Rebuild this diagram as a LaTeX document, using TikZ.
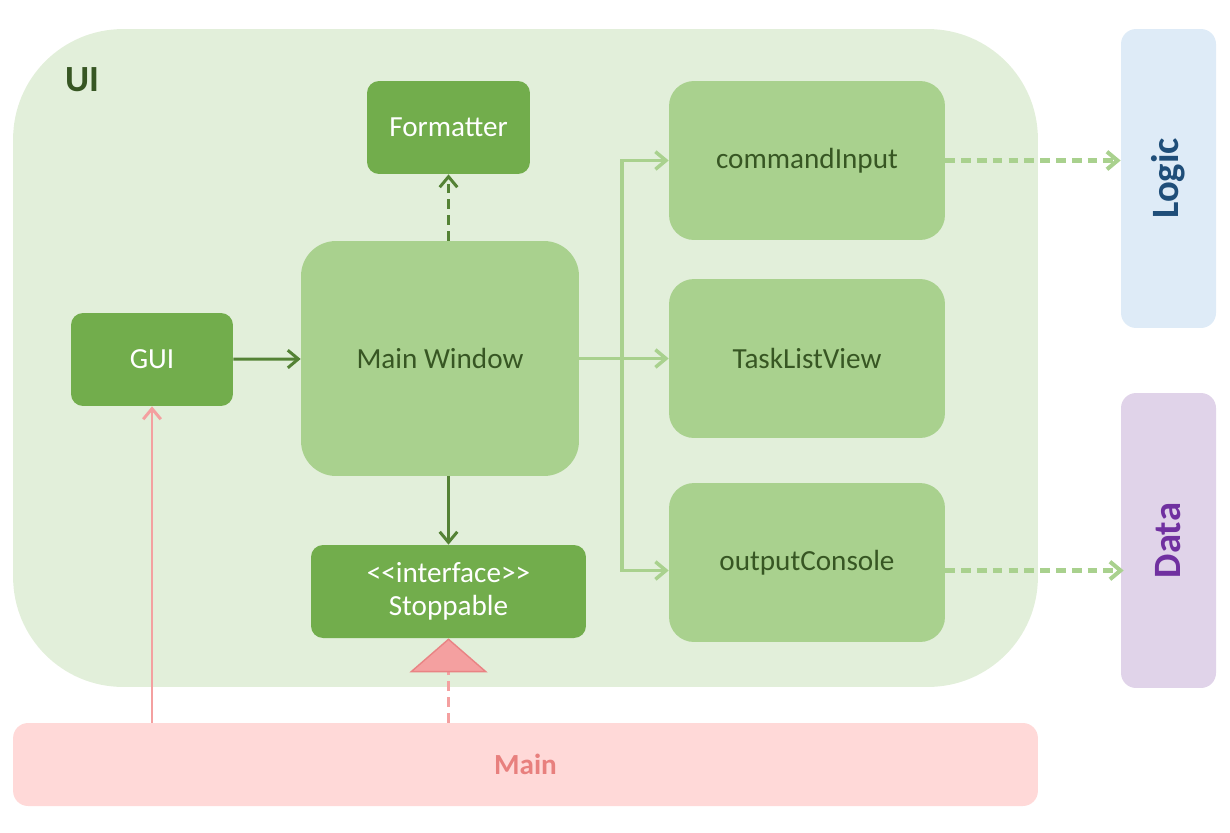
\documentclass[tikz,border=0pt]{standalone}
\usepackage{fontspec}
\setmainfont{Carlito}
\usetikzlibrary{arrows.meta}

\definecolor{uibg}{HTML}{E2EFDA}
\definecolor{darkbox}{HTML}{72AD4C}
\definecolor{lightbox}{HTML}{A9D18E}
\definecolor{darkline}{HTML}{548235}
\definecolor{darktext}{HTML}{375623}
\definecolor{logicbg}{HTML}{DEEBF7}
\definecolor{logictext}{HTML}{1F4E79}
\definecolor{databg}{HTML}{E0D3E9}
\definecolor{datatext}{HTML}{7030A0}
\definecolor{mainbg}{HTML}{FFD9D8}
\definecolor{maintext}{HTML}{E8807E}
\definecolor{pinkline}{HTML}{F4A0A0}
\definecolor{pinkedge}{HTML}{E98384}

\begin{document}
\begin{tikzpicture}[x=0.02cm,y=-0.02cm,
    darkcls/.style={rounded corners=0.24cm,fill=darkbox,text=white,inner sep=0pt,
      minimum height=1.86cm,font=\fontsize{16.6}{19}\selectfont,align=center},
    lightcls/.style={rounded corners=0.5cm,fill=lightbox,text=darktext,inner sep=0pt,
      minimum width=5.52cm,minimum height=3.18cm,font=\fontsize{16.6}{19}\selectfont},
    sidebox/.style={rounded corners=0.3cm,inner sep=0pt,minimum width=1.9cm,
      font=\bfseries\fontsize{22}{26}\selectfont},
    tip/.style={-{Straight Barb[length=6pt,width=10pt]}},
    dep/.style={tip,line width=1.7pt,dash pattern=on 5.5pt off 3.5pt}]

\useasboundingbox (0,0) rectangle (1230,832);

\node[rounded corners=2.2cm,fill=uibg,minimum width=20.5cm,minimum height=13.16cm] (ui) at (525.5,358) {};
\node[text=darktext,font=\bfseries\fontsize{21}{25}\selectfont] (uilabel) at (82,80) {UI};

\node[darkcls,minimum width=3.26cm] (formatter) at (448.5,127.5) {Formatter};
\node[darkcls,minimum width=3.24cm] (gui) at (152,359.5) {GUI};
\node[darkcls,minimum width=5.5cm] (stop) at (448.5,591.5) {<\kern0pt<interface>\kern0pt>\\Stoppable};
\node[lightcls,rounded corners=0.7cm,minimum width=5.56cm,minimum height=4.7cm] (mainwin) at (440,358.5) {Main Window};

\node[lightcls] (cmd) at (807,160.5) {commandInput};
\node[lightcls] (task) at (807,358.5) {TaskListView};
\node[lightcls] (out) at (807,562.5) {outputConsole};

\node[sidebox,fill=logicbg,text=logictext,minimum height=5.98cm] (logic) at (1168.5,178.5) {};
\node[rotate=90,text=logictext,font=\bfseries\fontsize{22}{26}\selectfont] at (logic) {Logic};
\node[sidebox,fill=databg,text=datatext,minimum height=5.9cm] (data) at (1168.5,540.5) {};
\node[rotate=90,text=datatext,font=\bfseries\fontsize{22}{26}\selectfont] at (data) {Data};

\node[rounded corners=0.3cm,fill=mainbg,text=maintext,minimum width=20.5cm,minimum height=1.66cm,
  font=\bfseries\fontsize{16.6}{19}\selectfont] (main) at (525.5,764.5) {Main};

% inside UI
\draw[tip,darkline,line width=1.7pt] (gui) -- (mainwin);
\draw[dep,darkline] (mainwin.north -| formatter) -- (formatter);
\draw[tip,darkline,line width=1.7pt] (mainwin.south -| stop) -- (stop);

\coordinate (split) at (622,358.5);
\draw[tip,lightbox,line width=2pt] (mainwin.east) -- (task.west);
\draw[tip,lightbox,line width=2pt] (split) |- (cmd.west);
\draw[tip,lightbox,line width=2pt] (split) |- ([yshift=-0.16cm]out.west);

% to other components
\draw[dep,lightbox,line width=2.3pt] (cmd.east) -- (cmd.east -| logic.west);
\draw[dep,lightbox,line width=2.3pt] ([yshift=-0.16cm]out.east) -- ([yshift=-0.16cm,xshift=0.06cm]out.east -| data.west);

% from Main
\draw[tip,pinkline,line width=1.7pt] (gui.south |- main.north) -- (gui.south);
\draw[pinkline,line width=1.7pt,dash pattern=on 5.5pt off 3.5pt,
  -{Triangle[length=0.68cm,width=1.56cm,fill=pinkline,color=pinkedge,line width=0.8pt]}]
  (stop.south |- main.north) -- (stop.south);
\end{tikzpicture}
\end{document}
